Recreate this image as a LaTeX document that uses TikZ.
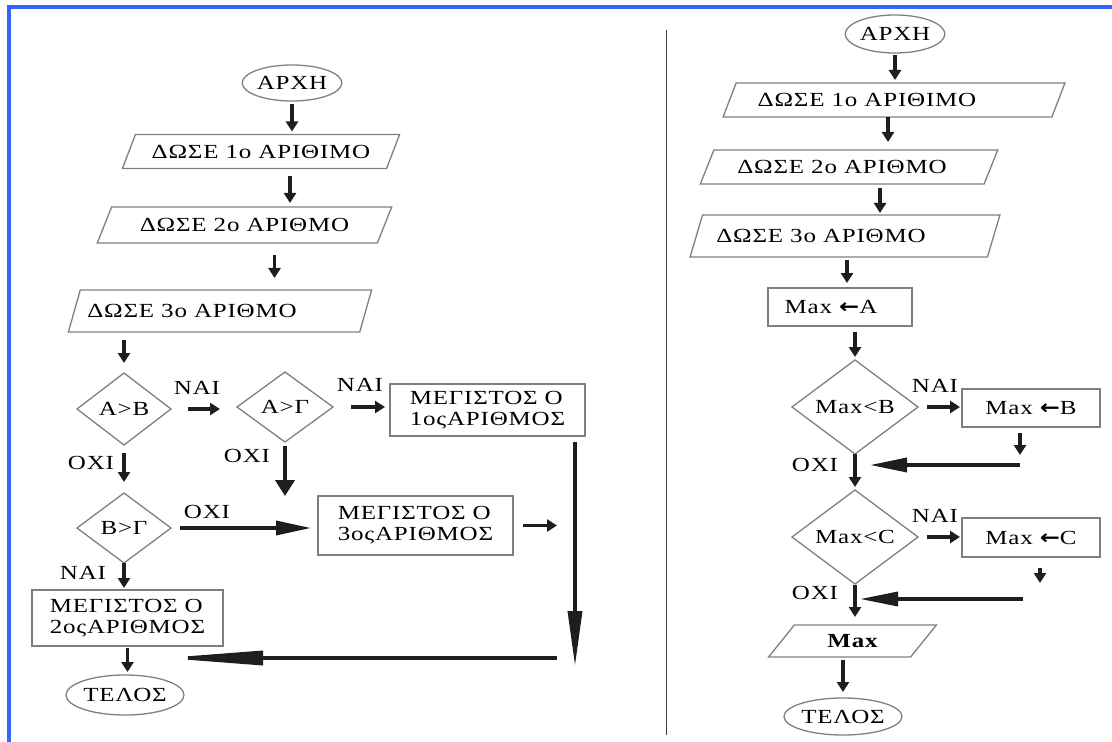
\documentclass[tikz,border=0pt]{standalone}
\usepackage{fontspec}
\setmainfont{Liberation Serif}[FakeStretch=1.25,LetterSpace=4]
\newfontfamily\arrowfont{DejaVu Sans}[FakeStretch=1.2]
\usepackage{tikz}
\usetikzlibrary{arrows.meta,shapes.geometric,positioning}
\definecolor{frameblue}{HTML}{3366FF}
\definecolor{shapegray}{HTML}{7F7F7F}
\definecolor{inkblack}{HTML}{1E1E1E}
\newcommand{\assignarrow}{{\arrowfont\bfseries ←}}
\tikzset{
  shapeline/.style={draw=shapegray,line width=1.3pt,inner sep=0pt,outer sep=0pt,font=\fontsize{20}{21}\selectfont},
  terminal/.style={shapeline,ellipse},
  iobox/.style={shapeline,trapezium,trapezium left angle=50,trapezium right angle=130,trapezium stretches=true},
  decision/.style={shapeline,diamond},
  process/.style={shapeline,rectangle,align=left},
  answer/.style={font=\fontsize{20}{21}\selectfont,inner sep=0pt},
  flow/.style={inkblack,line width=3.5pt,-{Triangle[length=10pt,width=12pt]}},
  bigflow/.style={inkblack,line width=4pt,-{Triangle[length=16pt,width=19pt]}},
  longflow/.style={inkblack,line width=3.5pt,-{Triangle[length=#1,width=14pt]}},
}
\begin{document}
\begin{tikzpicture}[x=1pt,y=-1pt]
\useasboundingbox (0,0) rectangle (1112,742);
\draw[frameblue,line width=4pt] (9,742) -- (9,7) -- (1112,7);
\draw[black!75,line width=1pt] (666,30) -- (666,735);

% left chart
\node[terminal,minimum width=96pt,minimum height=36pt] (start1) at (292,83) {ΑΡΧΗ};
\node[iobox,minimum width=278pt,minimum height=34pt] (read1) at (261,151.5) {ΔΩΣΕ 1ο ΑΡΙΘΙΜΟ};
\node[iobox,minimum width=295pt,minimum height=36pt] (read2) at (244.5,225) {ΔΩΣΕ 2ο ΑΡΙΘΜΟ};
\node[iobox,minimum width=304pt,minimum height=42pt] (read3) at (220,311) {ΔΩΣΕ 3ο ΑΡΙΘΜΟ\hspace*{56pt}};
\node[decision,minimum width=94pt,minimum height=72pt] (ab) at (124,409) {Α>Β};
\node[decision,minimum width=96pt,minimum height=70pt] (ag) at (285,407) {Α>Γ};
\node[decision,minimum width=94pt,minimum height=70pt] (bg) at (124,528) {Β>Γ};
\node[process,minimum width=195pt,minimum height=52pt] (max1) at (487.5,410) {ΜΕΓΙΣΤΟΣ Ο\\1οςΑΡΙΘΜΟΣ};
\node[process,minimum width=195pt,minimum height=59pt] (max3) at (415.5,525.5) {ΜΕΓΙΣΤΟΣ Ο\\3οςΑΡΙΘΜΟΣ};
\node[process,minimum width=191pt,minimum height=56pt] (max2) at (127.5,618) {ΜΕΓΙΣΤΟΣ Ο\\2οςΑΡΙΘΜΟΣ};
\node[terminal,minimum width=106pt,minimum height=40pt] (end1) at (125,695) {ΤΕΛΟΣ};

\node[answer] (yesab) at (197,388) {ΝΑΙ};
\node[answer] (yesag) at (360,385) {ΝΑΙ};
\node[answer] (noab) at (91,463) {ΟΧΙ};
\node[answer] (noag) at (247,456) {ΟΧΙ};
\node[answer] (nobg) at (207,512) {ΟΧΙ};
\node[answer] (yesbg) at (83,573) {ΝΑΙ};

\coordinate (down1) at (575,666);
\coordinate (back1) at (557,658);

\draw[flow,shorten <=3pt,shorten >=3pt] (start1.south) -- (start1.south |- read1.north);
\draw[flow,shorten <=7pt,shorten >=4pt] ([xshift=29pt]read1.south) -- ([xshift=29pt]read1.south |- read2.north);
\draw[flow,shorten <=12pt,shorten >=12pt] ([xshift=30pt]read2.south) -- ([xshift=30pt]read2.south |- read3.north);
\draw[flow,shorten <=8pt,shorten >=10pt] (read3.south -| ab.north) -- (ab.north);
\draw[flow,shorten <=17pt,shorten >=17pt] (ab.east) -- (ab.east -| ag.west);
\draw[flow,shorten <=18pt,shorten >=5pt] (ag.east) -- (max1.west |- ag.east);
\draw[flow,shorten <=8pt,shorten >=11pt] (ab.south) -- (bg.north);
\draw[bigflow,shorten <=4pt] (ag.south) -- (ag.south |- max3.north);
\draw[longflow=35pt,shorten <=9pt,shorten >=7pt] (bg.east) -- (max3.west |- bg.east);
\draw[flow,shorten <=10pt,shorten >=18pt] (max3.east) -- (max3.east -| down1);
\draw[longflow=55pt,shorten <=6pt] (max1.south -| down1) -- (down1);
\draw[flow,shorten >=2pt] (bg.south) -- (bg.south |- max2.north);
\draw[flow,shorten <=2pt,shorten >=3pt] (max2.south) -- (max2.south |- end1.north);
\draw[longflow=100pt,shorten >=38pt] (back1) -- (back1 -| end1.north);

% right chart
\node[terminal,minimum width=99pt,minimum height=38pt] (start2) at (895,34) {ΑΡΧΗ};
\node[iobox,minimum width=342pt,minimum height=34pt] (in1) at (894,100) {ΔΩΣΕ 1ο ΑΡΙΘΙΜΟ\hspace*{54pt}};
\node[iobox,minimum width=298pt,minimum height=34pt] (in2) at (849,167) {ΔΩΣΕ 2ο ΑΡΙΘΜΟ\hspace*{14pt}};
\node[iobox,minimum width=310pt,minimum height=42pt] (in3) at (845,236) {ΔΩΣΕ 3ο ΑΡΙΘΜΟ\hspace*{48pt}};
\node[process,minimum width=144pt,minimum height=38pt] (setA) at (840,307) {Max \assignarrow A\hspace*{18pt}};
\node[decision,minimum width=126pt,minimum height=94pt] (ltB) at (855,407) {Max<B};
\node[process,minimum width=138pt,minimum height=38pt] (setB) at (1031,408) {Max \assignarrow B};
\node[decision,minimum width=126pt,minimum height=94pt] (ltC) at (855,537) {Max<C};
\node[process,minimum width=138pt,minimum height=39pt] (setC) at (1031,537.5) {Max \assignarrow C};
\node[iobox,minimum width=169pt,minimum height=32pt] (out) at (852.5,641) {\bfseries Max};
\node[terminal,minimum width=110pt,minimum height=37pt] (end2) at (843,716.5) {ΤΕΛΟΣ};

\node[answer] (yesB) at (935,386) {ΝΑΙ};
\node[answer] (noB) at (815,465) {ΟΧΙ};
\node[answer] (yesC) at (935,516) {ΝΑΙ};
\node[answer] (noC) at (815,593) {ΟΧΙ};

\coordinate (backB) at (1020,465);
\coordinate (backC) at (1023,599);

\draw[flow,shorten <=2pt,shorten >=3pt] (start2.south) -- (start2.south |- in1.north);
\draw[flow,shorten >=8pt] ([xshift=-6pt]in1.south) -- ([xshift=-6pt]in1.south |- in2.north);
\draw[flow,shorten <=4pt,shorten >=2pt] ([xshift=31pt]in2.south) -- ([xshift=31pt]in2.south |- in3.north);
\draw[flow,shorten <=3pt,shorten >=5pt] ([xshift=7pt]setA.north |- in3.south) -- ([xshift=7pt]setA.north);
\draw[flow,shorten <=6pt,shorten >=3pt] (setA.south -| ltB.north) -- (ltB.north);
\draw[flow,shorten <=9pt,shorten >=2pt] (ltB.east) -- (setB.west |- ltB.east);
\draw[flow] ([xshift=-11pt,yshift=-6pt]setB.south) -- ([xshift=-11pt,yshift=-28pt]setB.south);
\draw[longflow=37pt,shorten >=15pt] (backB) -- (backB -| ltB.south);
\draw[flow,shorten >=3pt] (ltB.south) -- (ltC.north);
\draw[flow,shorten <=9pt,shorten >=2pt] (ltC.east) -- (setC.west |- ltC.east);
\draw[flow] ([xshift=9pt,yshift=-11pt]setC.south) -- ([xshift=9pt,yshift=-26pt]setC.south);
\draw[longflow=38pt,shorten >=5pt] (backC) -- (backC -| ltC.south);
\draw[flow,shorten <=1pt,shorten >=8pt] (ltC.south) -- (ltC.south |- out.north);
\draw[flow,shorten <=3pt,shorten >=6pt] (out.south -| end2.north) -- (end2.north);
\end{tikzpicture}
\end{document}
